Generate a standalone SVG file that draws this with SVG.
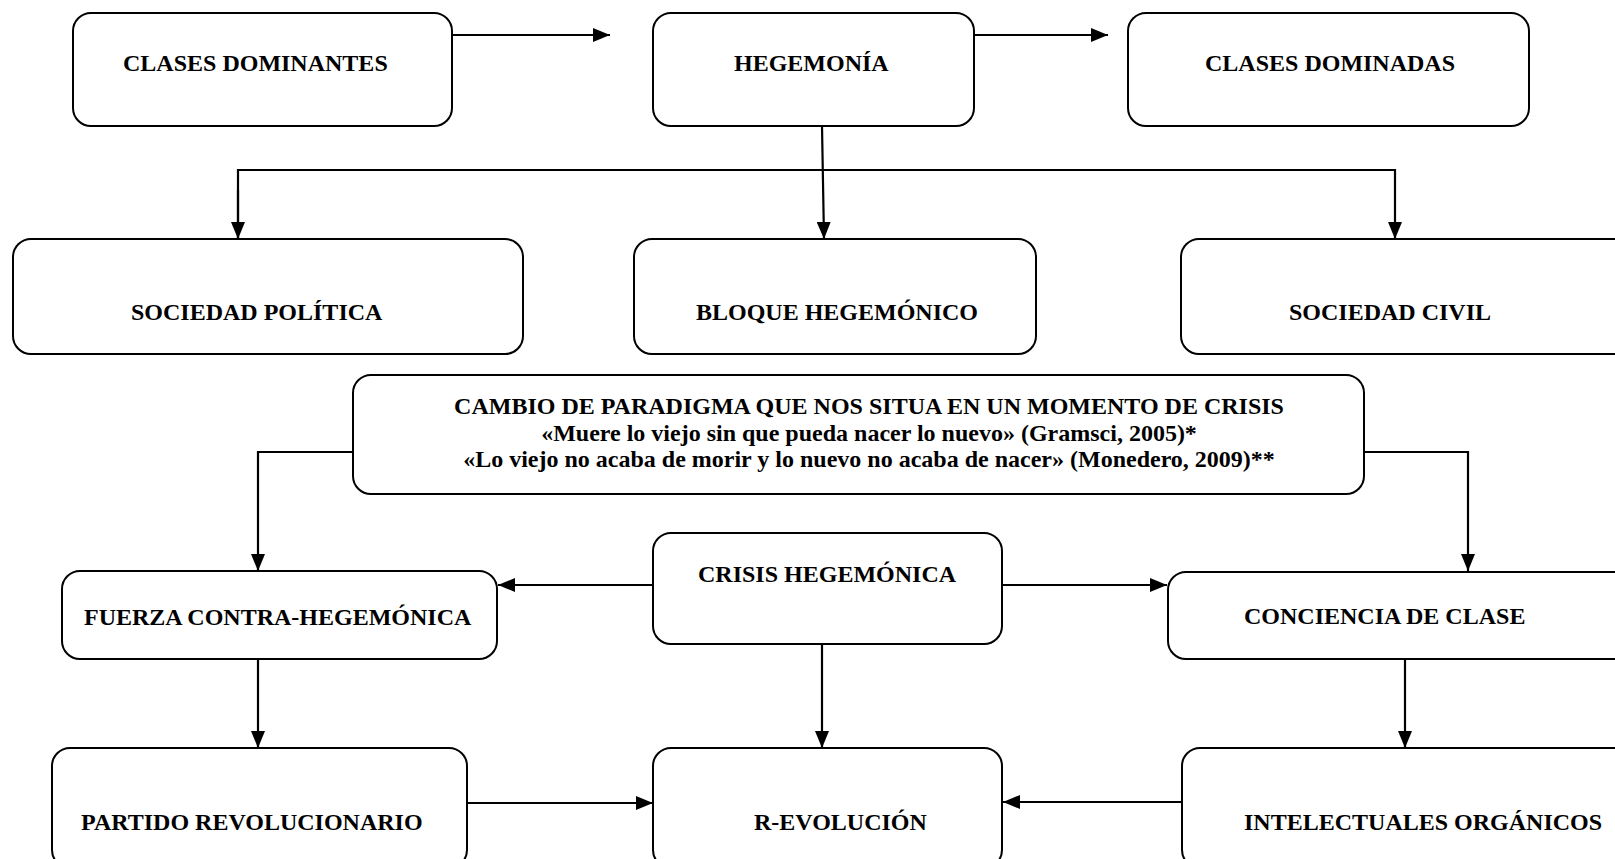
<svg xmlns="http://www.w3.org/2000/svg" width="1615" height="859" viewBox="0 0 1615 859">
<style>
.box{fill:#fff;stroke:#000;stroke-width:2}
.t{font-family:"Liberation Serif","Times New Roman",serif;font-weight:bold;font-size:24px;fill:#000}
.c{fill:none;stroke:#000;stroke-width:2.2}
</style>
<defs>
<marker id="ah" markerWidth="17" markerHeight="14" refX="17" refY="7" orient="auto" markerUnits="userSpaceOnUse">
<path d="M0,0 L17,7 L0,14 z" fill="#000"/>
</marker>
</defs>
<rect width="1615" height="859" fill="#fff"/>
<g id="connectors">
<path class="c" d="M452,35 L610,35" marker-end="url(#ah)"/>
<path class="c" d="M974,35 L1108,35" marker-end="url(#ah)"/>
<path class="c" d="M822,126 L824,239" marker-end="url(#ah)"/>
<path class="c" d="M238,239 L238,170 L1395,170 L1395,239" marker-end="url(#ah)"/>
<path class="c" d="M238,190 L238,239" marker-end="url(#ah)"/>
<path class="c" d="M353,452 L258,452 L258,571" marker-end="url(#ah)"/>
<path class="c" d="M1364,452 L1468,452 L1468,571" marker-end="url(#ah)"/>
<path class="c" d="M653,585 L498,585" marker-end="url(#ah)"/>
<path class="c" d="M1002,585 L1167,585" marker-end="url(#ah)"/>
<path class="c" d="M258,659 L258,748" marker-end="url(#ah)"/>
<path class="c" d="M822,644 L822,748" marker-end="url(#ah)"/>
<path class="c" d="M1405,659 L1405,748" marker-end="url(#ah)"/>
<path class="c" d="M467,803 L653,803" marker-end="url(#ah)"/>
<path class="c" d="M1182,802 L1003,802" marker-end="url(#ah)"/>
</g>
<g id="clases-dominantes">
<rect class="box" x="73" y="13" width="379" height="113" rx="18"/>
<text class="t" x="123" y="71">CLASES DOMINANTES</text>
</g>
<g id="hegemonia">
<rect class="box" x="653" y="13" width="321" height="113" rx="18"/>
<text class="t" x="734" y="71">HEGEMONÍA</text>
</g>
<g id="clases-dominadas">
<rect class="box" x="1128" y="13" width="401" height="113" rx="18"/>
<text class="t" x="1205" y="71">CLASES DOMINADAS</text>
</g>
<g id="sociedad-politica">
<rect class="box" x="13" y="239" width="510" height="115" rx="18"/>
<text class="t" x="131" y="320">SOCIEDAD POLÍTICA</text>
</g>
<g id="bloque-hegemonico">
<rect class="box" x="634" y="239" width="402" height="115" rx="18"/>
<text class="t" x="696" y="320">BLOQUE HEGEMÓNICO</text>
</g>
<g id="sociedad-civil">
<rect class="box" x="1181" y="239" width="460" height="115" rx="18"/>
<text class="t" x="1289" y="320">SOCIEDAD CIVIL</text>
</g>
<g id="cambio-paradigma">
<rect class="box" x="353" y="375" width="1011" height="119" rx="18"/>
<text class="t" x="869" y="414" text-anchor="middle">CAMBIO DE PARADIGMA QUE NOS SITUA EN UN MOMENTO DE CRISIS</text>
<text class="t" x="869" y="441" text-anchor="middle">«Muere lo viejo sin que pueda nacer lo nuevo» (Gramsci, 2005)*</text>
<text class="t" x="869" y="467" text-anchor="middle">«Lo viejo no acaba de morir y lo nuevo no acaba de nacer» (Monedero, 2009)**</text>
</g>
<g id="fuerza-contra-hegemonica">
<rect class="box" x="62" y="571" width="435" height="88" rx="18"/>
<text class="t" x="84" y="625">FUERZA CONTRA-HEGEMÓNICA</text>
</g>
<g id="crisis-hegemonica">
<rect class="box" x="653" y="533" width="349" height="111" rx="18"/>
<text class="t" x="698" y="582">CRISIS HEGEMÓNICA</text>
</g>
<g id="conciencia-de-clase">
<rect class="box" x="1168" y="572" width="470" height="87" rx="18"/>
<text class="t" x="1244" y="624">CONCIENCIA DE CLASE</text>
</g>
<g id="partido-revolucionario">
<rect class="box" x="52" y="748" width="415" height="120" rx="18"/>
<text class="t" x="81" y="830">PARTIDO REVOLUCIONARIO</text>
</g>
<g id="r-evolucion">
<rect class="box" x="653" y="748" width="349" height="120" rx="18"/>
<text class="t" x="754" y="830">R-EVOLUCIÓN</text>
</g>
<g id="intelectuales-organicos">
<rect class="box" x="1182" y="748" width="460" height="120" rx="18"/>
<text class="t" x="1244" y="830">INTELECTUALES ORGÁNICOS</text>
</g>
</svg>
